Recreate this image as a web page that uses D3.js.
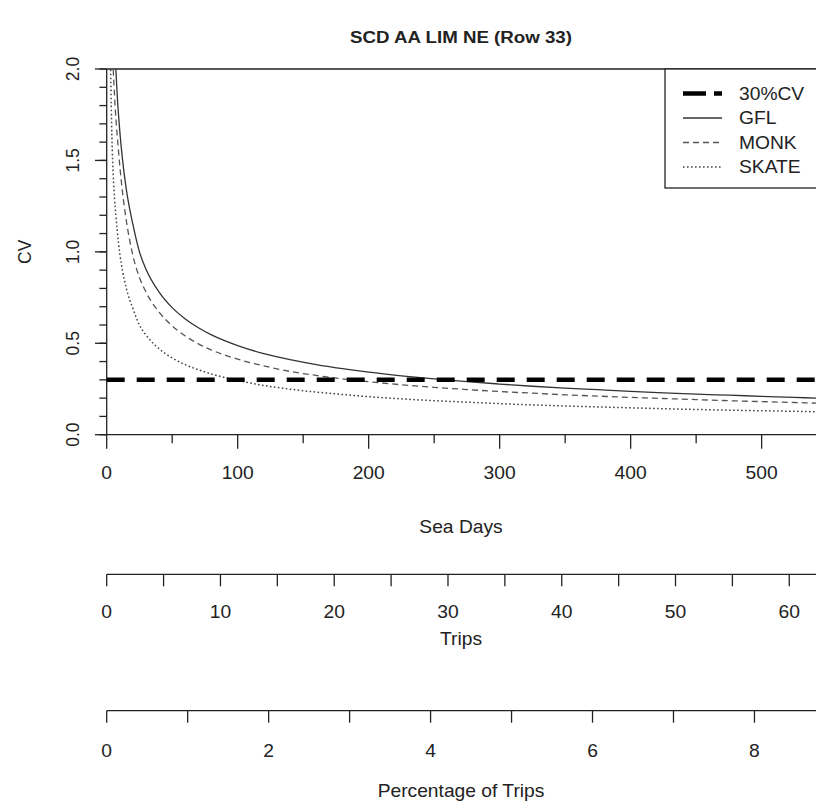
<!DOCTYPE html>
<html>
<head>
<meta charset="utf-8">
<script src="https://cdn.jsdelivr.net/npm/d3@7"></script>
<style>
  html, body { margin: 0; padding: 0; background: #fff; }
  svg { display: block; }
  text { font-family: "Liberation Sans", Arial, sans-serif; fill: #222; }
</style>
</head>
<body>
<svg id="chart" width="816" height="804"></svg>
<script>
// ---------- data ----------
const title = "SCD AA LIM NE (Row 33)";
const seaDays = [2,3,4,5,6,7,8,10,12,15,20,25,30,40,50,60,70,80,90,100,120,140,160,180,200,225,250,275,300,325,350,375,400,425,450,475,500,525,545];
const gfl   = [3.7,3.05,2.65,2.37,2.16,2.0,1.86,1.66,1.51,1.34,1.15,1.00,0.905,0.78,0.695,0.633,0.585,0.546,0.514,0.487,0.443,0.41,0.383,0.361,0.342,0.322,0.305,0.29,0.277,0.265,0.255,0.246,0.237,0.229,0.222,0.216,0.210,0.204,0.199];
const monk  = [3.2,2.6,2.25,2.0,1.85,1.73,1.64,1.47,1.33,1.17,0.98,0.86,0.78,0.67,0.595,0.54,0.497,0.463,0.436,0.413,0.376,0.346,0.324,0.305,0.29,0.273,0.259,0.247,0.236,0.227,0.218,0.211,0.204,0.198,0.192,0.186,0.181,0.176,0.172];
const skate = [2.5,2.0,1.62,1.42,1.29,1.2,1.12,0.99,0.9,0.8,0.69,0.6,0.545,0.47,0.42,0.383,0.355,0.332,0.313,0.297,0.269,0.249,0.233,0.22,0.208,0.196,0.186,0.178,0.17,0.163,0.157,0.152,0.147,0.142,0.138,0.134,0.131,0.128,0.125];
const targetCV = 0.3;
const seriesNames = ["GFL", "MONK", "SKATE"];
const legendLabels = ["30%CV", "GFL", "MONK", "SKATE"];
const cvTicks = [0, 0.5, 1.0, 1.5, 2.0];
const cvMinorTicks = d3.range(0, 2.01, 0.1);
const dayTicks = [0, 100, 200, 300, 400, 500];
const dayMinorTicks = [50, 150, 250, 350, 450, 550];
const tripTicks = [0, 10, 20, 30, 40, 50, 60];
const tripMinorTicks = [5, 15, 25, 35, 45, 55];
const pctTicks = [0, 2, 4, 6, 8];
const pctMinorTicks = [1, 3, 5, 7];

// ---------- layout ----------
const L = 106.7, R = 816, T = 69, B = 434.7;
const FS = 17.5, SX = 1.1;
const svg = d3.select("#chart");

const x = d3.scaleLinear().domain([0, 541.5]).range([L, R]);
const y = d3.scaleLinear().domain([0, 2]).range([B, T]);
const xTrips = d3.scaleLinear().domain([0, 62.35]).range([L, R]);
const xPct = d3.scaleLinear().domain([0, 8.76]).range([L, R]);

function txt(g, str, px, py, opts = {}) {
  const t = g.append("text")
    .attr("text-anchor", opts.anchor || "middle")
    .attr("font-size", opts.size || FS)
    .attr("font-weight", opts.bold ? "bold" : "normal")
    .attr("transform", `translate(${px},${py})` + (opts.rotate ? ` rotate(${opts.rotate}) scale(1,${SX})` : ` scale(${SX},1)`))
    .text(str);
  return t;
}

// clip
svg.append("defs").append("clipPath").attr("id", "clip")
  .append("rect").attr("x", L).attr("y", T).attr("width", R - L).attr("height", B - T);

// title
txt(svg, title, 461, 43, { bold: true, size: 17 });

// top border of the box
svg.append("line").attr("x1", L).attr("x2", R).attr("y1", T).attr("y2", T)
  .attr("stroke", "#222").attr("stroke-width", 1.3);

// ---------- axes ----------
function bottomAxis(scale, yPos, major, minor, majorLen, minorLen, labelBase, fmt) {
  const g = svg.append("g");
  g.append("line").attr("x1", scale(0)).attr("x2", R).attr("y1", yPos).attr("y2", yPos)
    .attr("stroke", "#222").attr("stroke-width", 1.3);
  g.selectAll(".maj").data(major).join("line")
    .attr("x1", d => scale(d)).attr("x2", d => scale(d))
    .attr("y1", yPos).attr("y2", yPos + majorLen)
    .attr("stroke", "#222").attr("stroke-width", 1.3);
  g.selectAll(".min").data(minor.filter(d => scale(d) <= R)).join("line")
    .attr("x1", d => scale(d)).attr("x2", d => scale(d))
    .attr("y1", yPos).attr("y2", yPos + minorLen)
    .attr("stroke", "#222").attr("stroke-width", 1.3);
  major.forEach(d => txt(g, fmt(d), scale(d), labelBase));
}
bottomAxis(x, B, dayTicks, dayMinorTicks, 14, 8.5, 479.3, d3.format("d"));
bottomAxis(xTrips, 574.3, tripTicks, tripMinorTicks, 12, 12, 618, d3.format("d"));
bottomAxis(xPct, 710.7, pctTicks, pctMinorTicks, 12, 12, 757, d3.format("d"));

txt(svg, "Sea Days", 461, 533);
txt(svg, "Trips", 461, 645);
txt(svg, "Percentage of Trips", 461, 797);

// y axis
const gy = svg.append("g");
gy.append("line").attr("x1", L).attr("x2", L).attr("y1", T).attr("y2", B)
  .attr("stroke", "#222").attr("stroke-width", 1.3);
gy.selectAll(".ymin").data(cvMinorTicks).join("line")
  .attr("x1", L - 7.3).attr("x2", L).attr("y1", d => y(d)).attr("y2", d => y(d))
  .attr("stroke", "#222").attr("stroke-width", 1.3);
gy.selectAll(".ymaj").data(cvTicks).join("line")
  .attr("x1", L - 11.7).attr("x2", L).attr("y1", d => y(d)).attr("y2", d => y(d))
  .attr("stroke", "#222").attr("stroke-width", 1.3);
cvTicks.forEach(d => txt(gy, d3.format(".1f")(d), 79, y(d), { rotate: -90 }));
txt(svg, "CV", 30.5, (T + B) / 2, { rotate: -90 });

// ---------- series ----------
const plot = svg.append("g").attr("clip-path", "url(#clip)");
const line = d3.line().x(d => x(d[0])).y(d => y(d[1])).curve(d3.curveMonotoneX);
const styles = {
  GFL:   { stroke: "#333", width: 1.3, dash: null },
  MONK:  { stroke: "#555", width: 1.3, dash: "6,4" },
  SKATE: { stroke: "#444", width: 1.5, dash: "1.6,2.4" }
};
const seriesData = { GFL: gfl, MONK: monk, SKATE: skate };
seriesNames.forEach(name => {
  const pts = seaDays.map((d, i) => [d, seriesData[name][i]]);
  plot.append("path").datum(pts).attr("d", line)
    .attr("fill", "none").attr("stroke", styles[name].stroke)
    .attr("stroke-width", styles[name].width)
    .attr("stroke-dasharray", styles[name].dash);
});
plot.append("line").attr("x1", x(0)).attr("x2", R).attr("y1", y(targetCV)).attr("y2", y(targetCV))
  .attr("stroke", "#000").attr("stroke-width", 4.5).attr("stroke-dasharray", "18,12");

// ---------- legend ----------
const lg = svg.append("g");
lg.append("rect").attr("x", 665).attr("y", T).attr("width", 200).attr("height", 119)
  .attr("fill", "#fff").attr("stroke", "#222").attr("stroke-width", 1.3);
const legStyles = [
  { stroke: "#000", width: 4.5, dash: "23,8" },
  styles.GFL, styles.MONK, styles.SKATE
];
legendLabels.forEach((lab, i) => {
  const ry = 93.5 + i * 24.5;
  lg.append("line").attr("x1", 683).attr("x2", 722).attr("y1", ry).attr("y2", ry)
    .attr("stroke", legStyles[i].stroke).attr("stroke-width", legStyles[i].width)
    .attr("stroke-dasharray", legStyles[i].dash);
  txt(lg, lab, 739, ry + 6.3, { anchor: "start" });
});
</script>
</body>
</html>
